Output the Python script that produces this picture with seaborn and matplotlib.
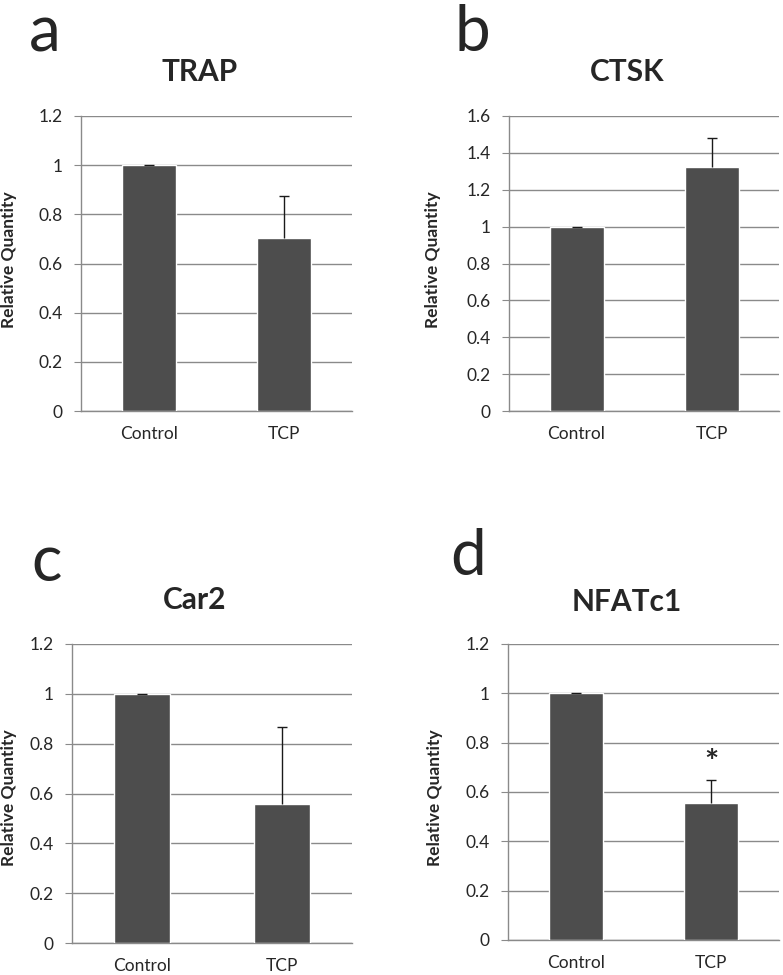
import matplotlib
matplotlib.use("Agg")
import matplotlib.pyplot as plt
import seaborn as sns
import pandas as pd

# Données
groupes = ["Control", "TCP"]
trap = [1.0, 0.703]
trap_err = [0.0, 0.17]
ctsk = [1.0, 1.325]
ctsk_err = [0.0, 0.158]
car2 = [1.0, 0.558]
car2_err = [0.0, 0.308]
nfatc1 = [1.0, 0.557]
nfatc1_err = [0.0, 0.09]

sns.set_style("white")
plt.rcParams["font.family"] = ["Lato", "DejaVu Sans"]

gris_barre = "#4d4d4d"
gris_axe = "#8a8a8a"

fig = plt.figure(figsize=(7.83, 9.75), dpi=100)

# (lettre, titre, valeurs, erreurs, ymax, position axes, pos lettre, pos titre, pos ylabel)
panneaux = [
    ("a", "TRAP", trap, trap_err, 1.2, [81, 116, 352, 411], (45, 33), (200, 72), (9, 260)),
    ("b", "CTSK", ctsk, ctsk_err, 1.6, [509, 116, 779, 411], (472, 33), (627, 72), (433, 260)),
    ("c", "Car2", car2, car2_err, 1.2, [72, 644, 352, 943], (47, 563), (195, 600), (9, 798)),
    ("d", "NFATc1", nfatc1, nfatc1_err, 1.2, [508, 644, 779, 940], (468, 557), (627, 602), (435, 798)),
]

W, H = 783, 975
for lettre, titre, vals, errs, ymax, box, pl, pt, py in panneaux:
    x0, y0, x1, y1 = box
    ax = fig.add_axes([x0 / W, 1 - y1 / H, (x1 - x0) / W, (y1 - y0) / H])
    df = pd.DataFrame({"groupe": groupes, "valeur": vals})
    sns.barplot(data=df, x="groupe", y="valeur", color=gris_barre, width=0.4,
                saturation=1, errorbar=None, ax=ax, zorder=3)
    eb = ax.errorbar([0, 1], vals, yerr=[[0, 0], errs], fmt="none", ecolor="#1a1a1a",
                     elinewidth=1, capsize=3.5, capthick=1, zorder=4)
    # pas de trait bas (seulement la barre d'erreur vers le haut)
    caps = eb[1]
    if len(caps) == 2:
        caps[0].set_visible(False)
    ax.set_xlim(-0.5, 1.5)
    ax.set_ylim(0, ymax)
    ticks = [i * 0.2 for i in range(int(round(ymax / 0.2)) + 1)]
    ax.set_yticks(ticks)
    ax.set_yticklabels([f"{t:g}" for t in ticks], fontsize=12.5)
    ax.yaxis.grid(True, color=gris_axe, linewidth=1, zorder=0)
    ax.set_axisbelow(True)
    ax.set_xticks([0, 1])
    ax.set_xticklabels(groupes, fontsize=12.5)
    ax.set_xticks([-0.5, 0.5, 1.5], minor=True)
    ax.tick_params(axis="x", which="major", length=0, pad=11)
    ax.tick_params(axis="x", which="minor", length=5, color=gris_axe, direction="out")
    ax.tick_params(axis="y", length=5, color=gris_axe, direction="out", pad=8, left=True)
    ax.set_xlabel("")
    ax.set_ylabel("")
    for s in ["top", "right"]:
        ax.spines[s].set_visible(False)
    for s in ["left", "bottom"]:
        ax.spines[s].set_color(gris_axe)
        ax.spines[s].set_linewidth(1)

    fig.text(pl[0] / W, 1 - pl[1] / H, lettre, fontsize=46, ha="center", va="center")
    fig.text(pt[0] / W, 1 - pt[1] / H, titre, fontsize=21.5, fontweight="bold",
             ha="center", va="center")
    fig.text(py[0] / W, 1 - py[1] / H, "Relative Quantity", fontsize=12.5,
             fontweight="bold", rotation=90, ha="center", va="center")

    if lettre == "d":
        ax.text(1, 0.715, "*", fontsize=24, fontweight="bold", ha="center", va="center")

fig.savefig("out.png", dpi=100)
